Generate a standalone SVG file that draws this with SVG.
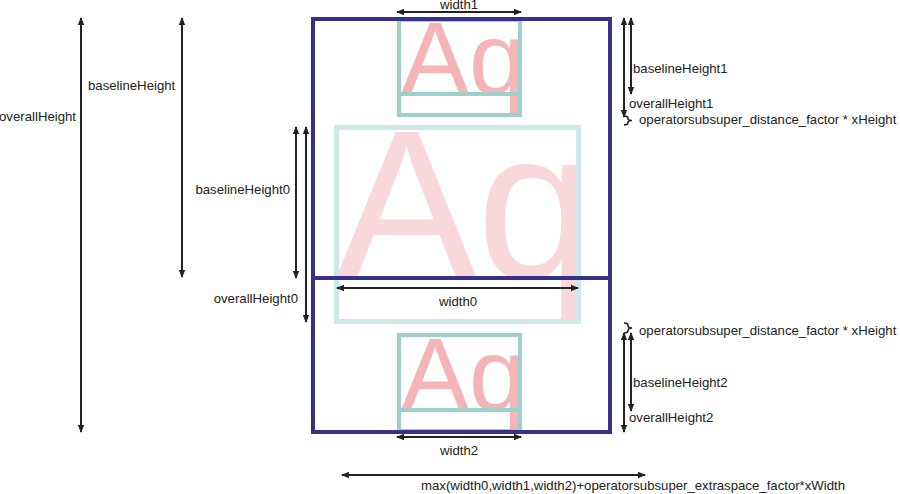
<svg xmlns="http://www.w3.org/2000/svg" width="900" height="494" viewBox="0 0 900 494">
<defs>
<marker id="ah" viewBox="0 0 8 8" refX="7" refY="4" markerWidth="8" markerHeight="8" markerUnits="userSpaceOnUse" orient="auto-start-reverse">
<path d="M0,0.8 L8,4 L0,7.2 Z" fill="#222"/>
</marker>
</defs>
<style>
.lbl{font-family:"Liberation Sans",Arial,sans-serif;font-size:13.2px;fill:#222}
.dim{stroke:#222;stroke-width:2;fill:none;marker-start:url(#ah);marker-end:url(#ah)}
.brace{stroke:#222;stroke-width:1.6;fill:none}
.glyph{font-family:"Liberation Sans",Arial,sans-serif}
.box1{fill:none;stroke:#9dd0cd;stroke-width:4}
.box0{fill:none;stroke:#cde8e6;stroke-width:5}
.outer{fill:none;stroke:#38318a;stroke-width:4}
</style>
<rect width="900" height="494" fill="#fff"/>
<g id="middle">
<text class="glyph" x="336" y="278" font-size="211" fill="#f8d8da">Aq</text>
<rect class="box0" x="336.5" y="127.5" width="242" height="194"/>
</g>
<g id="top">
<text class="glyph" x="401" y="94" font-size="102" fill="#f4b4b8">Aq</text>
<rect class="box1" x="399" y="20" width="121" height="95"/>
<line x1="399" y1="94" x2="520" y2="94" stroke="#9dd0cd" stroke-width="4"/>
</g>
<g id="bottom">
<text class="glyph" x="401" y="410" font-size="102" fill="#f4b4b8">Aq</text>
<rect class="box1" x="399" y="335" width="121" height="96"/>
<line x1="399" y1="410" x2="520" y2="410" stroke="#9dd0cd" stroke-width="4"/>
</g>
<g id="outer">
<rect class="outer" x="313" y="19" width="297" height="413"/>
<line class="outer" x1="313" y1="278" x2="610" y2="278"/>
</g>
<g id="connectors">
<line class="dim" x1="81" y1="18" x2="81" y2="432"/>
<line class="dim" x1="182" y1="18" x2="182" y2="277"/>
<line class="dim" x1="296" y1="127" x2="296" y2="278"/>
<line class="dim" x1="306" y1="127" x2="306" y2="322"/>
<line class="dim" x1="624" y1="18" x2="624" y2="117"/>
<line class="dim" x1="631" y1="18" x2="631" y2="94"/>
<line class="dim" x1="624" y1="333" x2="624" y2="432"/>
<line class="dim" x1="631" y1="333" x2="631" y2="411"/>
<line class="dim" x1="397" y1="12" x2="521" y2="12"/>
<line class="dim" x1="337" y1="288" x2="578" y2="288"/>
<line class="dim" x1="397" y1="437" x2="521" y2="437"/>
<line class="dim" x1="342" y1="475" x2="645" y2="475"/>
<path class="brace" d="M624,116 Q628,116 628,118.5 Q628,120.5 632,120.5 Q628,120.5 628,122.5 Q628,125 624,125"/>
<path class="brace" d="M624,323 Q628,323 628,325.5 Q628,328 632,328 Q628,328 628,330.5 Q628,333 624,333"/>
</g>
<g id="labels">
<text class="lbl" x="76" y="121" text-anchor="end">overallHeight</text>
<text class="lbl" x="88" y="90">baselineHeight</text>
<text class="lbl" x="290" y="194" text-anchor="end">baselineHeight0</text>
<text class="lbl" x="298" y="303" text-anchor="end">overallHeight0</text>
<text class="lbl" x="633" y="73">baselineHeight1</text>
<text class="lbl" x="629" y="108">overallHeight1</text>
<text class="lbl" x="639" y="124">operatorsubsuper_distance_factor * xHeight</text>
<text class="lbl" x="639" y="335">operatorsubsuper_distance_factor * xHeight</text>
<text class="lbl" x="633" y="387">baselineHeight2</text>
<text class="lbl" x="629" y="422">overallHeight2</text>
<text class="lbl" x="459" y="9" text-anchor="middle">width1</text>
<text class="lbl" x="458" y="306" text-anchor="middle">width0</text>
<text class="lbl" x="459" y="455" text-anchor="middle">width2</text>
<text class="lbl" x="421" y="490">max(width0,width1,width2)+operatorsubsuper_extraspace_factor*xWidth</text>
</g>
</svg>
